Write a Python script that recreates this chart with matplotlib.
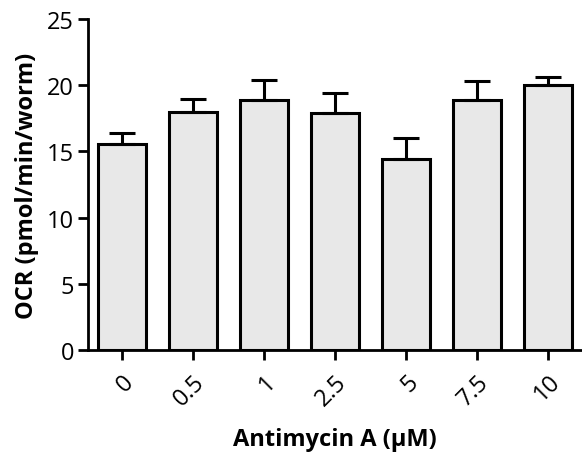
import numpy as np
import matplotlib.pyplot as plt

plt.rcParams['font.family'] = ['Open Sans', 'DejaVu Sans']

# Data
doses = ['0', '0.5', '1', '2.5', '5', '7.5', '10']
ocr = [15.6, 18.0, 18.9, 17.9, 14.4, 18.9, 20.0]
sem = [0.8, 1.0, 1.5, 1.5, 1.6, 1.4, 0.6]

fig = plt.figure(figsize=(5.82, 4.56), dpi=100)
ax = fig.add_axes([0.151, 0.230, 0.849, 0.726])

x = np.arange(len(doses))
ax.bar(x, ocr, width=0.68, color='#e8e8e8', edgecolor='black', linewidth=2.2,
       yerr=[np.zeros(len(sem)), sem], capsize=9.5,
       error_kw=dict(elinewidth=2.2, capthick=2.2, ecolor='black'), zorder=2)

ax.set_xlim(-0.48, len(doses) - 0.52)
ax.set_ylim(0, 25)
ax.set_yticks([0, 5, 10, 15, 20, 25])
ax.set_xticks(x)
ax.set_xticklabels(doses, rotation=45, ha='right', rotation_mode='anchor')

for s in ['top', 'right']:
    ax.spines[s].set_visible(False)
for s in ['left', 'bottom']:
    ax.spines[s].set_linewidth(2.0)

ax.tick_params(axis='both', width=2.0, length=7, labelsize=17, pad=3)
ax.tick_params(axis='x', pad=7)

ax.set_ylabel('OCR (pmol/min/worm)', fontsize=17, fontweight='bold', labelpad=6)
ax.set_xlabel('Antimycin A (\u00b5M)', fontsize=17, fontweight='bold', labelpad=12)

fig.savefig('out.png', dpi=100)
